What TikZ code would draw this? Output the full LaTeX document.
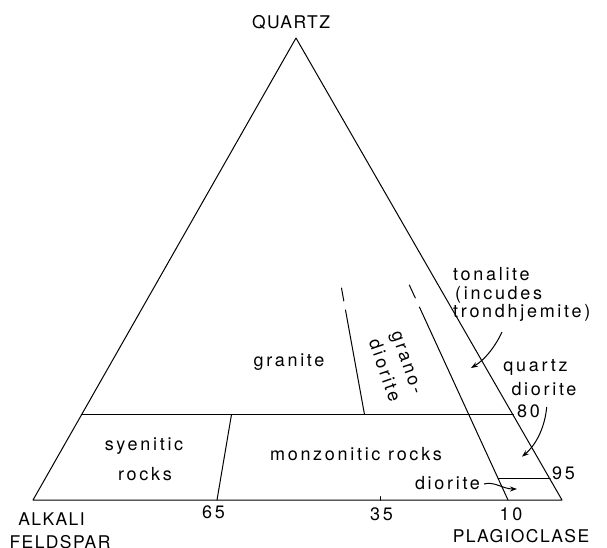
\documentclass[tikz,border=0pt]{standalone}
\usepackage{fontspec}
\setmainfont{TeX Gyre Heros}[LetterSpace=15]
\newfontfamily\capsfont{TeX Gyre Heros}[LetterSpace=8]
\usetikzlibrary{arrows.meta}
\begin{document}
\begin{tikzpicture}[x=1pt,y=-1pt,
  edge/.style={line width=1pt, line cap=round, line join=round},
  lbl/.style={inner sep=0pt, anchor=base, font=\fontsize{18}{20}\selectfont},
  capl/.style={inner sep=0pt, anchor=base, font=\capsfont\fontsize{17.5}{20}\selectfont},
  pointer/.style={line width=1pt, -{Stealth[length=7pt,width=5pt]}}]
\useasboundingbox (0,0) rectangle (607,547);
% corners
\coordinate (A) at (296,38);
\coordinate (L) at (33,500);
\coordinate (R) at (562,500);
% 20 % quartz line
\coordinate (Q20L) at (81.4,414.5);
\coordinate (Q20R) at (513.3,414.5);
% 65 line
\coordinate (B65) at (217,500);
\coordinate (T65) at (231.5,414.5);
% 35 line
\coordinate (M35) at (364.5,414.5);
\coordinate (S35) at (345.5,310);
\coordinate (D35a) at (343.8,301);
\coordinate (D35b) at (341.5,288);
\coordinate (K35a) at (380,500);
\coordinate (K35b) at (380,496.5);
% 90 line
\coordinate (B90) at (508,500);
\coordinate (S90) at (419.4,307);
\coordinate (D90a) at (415.3,298);
\coordinate (D90b) at (409.3,285);
% 95 line
\coordinate (P95L) at (498.4,478.5);
\coordinate (P95R) at (550.2,478.5);

\draw[edge] (L) -- (A) -- (R) -- cycle;
\draw[edge] (Q20L) -- (Q20R);
\draw[edge] (B65) -- (T65);
\draw[edge] (M35) -- (S35);
\draw[edge] (D35a) -- (D35b);
\draw[edge] (K35a) -- (K35b);
\draw[edge] (B90) -- (S90);
\draw[edge] (D90a) -- (D90b);
\draw[edge] (P95L) -- (P95R);

% labels
\node[capl] (quartz) at (291,28) {QUARTZ};
\node[capl] (alkali) at (51.5,525) {ALKALI};
\node[capl] (feldspar) at (60,548) {FELDSPAR};
\node[capl] (plag) at (521,542) {PLAGIOCLASE};
\node[lbl] (granite) at (289,366.7) {granite};
\node[inner sep=0pt, font=\fontsize{18}{24}\selectfont, align=center, rotate=-71] (grano) at (395,367) {grano-\\diorite};
\node[lbl] (syen1) at (144,450) {syenitic};
\node[lbl] (syen2) at (145,480) {rocks};
\node[lbl] (monzo) at (356,460) {monzonitic rocks};
\node[lbl, anchor=base west] (ton1) at (453,280) {tonalite};
\node[lbl, anchor=base west] (ton2) at (455,299) {(incudes};
\node[lbl, anchor=base west] (ton3) at (453,317) {trondhjemite)};
\node[lbl] (qd1) at (535.5,371.7) {quartz};
\node[lbl] (qd2) at (544,395) {diorite};
\node[lbl] (dio) at (447.5,489) {diorite};
\node[lbl] (n80) at (528.5,417) {80};
\node[lbl] (n95) at (563.5,479) {95};
\node[lbl] (n65) at (213.5,518) {65};
\node[lbl] (n35) at (381.5,520) {35};
\node[lbl] (n10) at (511,520) {10};

% arrows
\coordinate (t1s) at (502,332);
\coordinate (t1e) at (471,368);
\draw[pointer] (t1s) .. controls (496,345) and (486,359) .. (t1e);
\coordinate (t2s) at (546.7,407);
\coordinate (t2e) at (522,456.7);
\draw[pointer] (t2s) .. controls (545,426) and (537,444) .. (t2e);
\coordinate (t3s) at (484,484);
\coordinate (t3e) at (517,489);
\draw[pointer] (t3s) .. controls (494,481) and (503,489) .. (t3e);
\end{tikzpicture}
\end{document}
